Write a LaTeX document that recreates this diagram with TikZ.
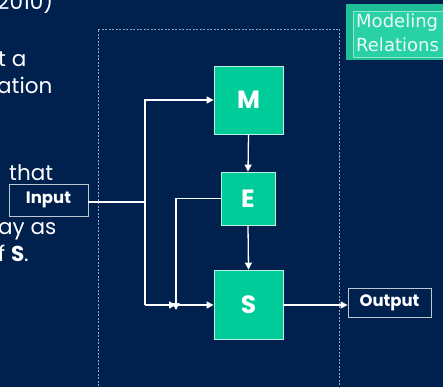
\documentclass[tikz,border=0pt]{standalone}
\usepackage{fontspec}
\setmainfont{Poppins}
\newfontfamily\dvs{DejaVu Sans}
\usetikzlibrary{arrows.meta}
\definecolor{navy}{RGB}{0,33,78}
\definecolor{boxgreen}{RGB}{0,204,153}
\definecolor{boxedge}{RGB}{190,240,225}
\definecolor{tagout}{RGB}{30,190,150}
\definecolor{tagin}{RGB}{40,210,165}
\definecolor{dashgray}{RGB}{150,165,190}
\tikzset{
  blk/.style={draw=boxedge, line width=0.8pt, fill=boxgreen, text=white, font=\fontsize{25}{28}\selectfont\bfseries, inner sep=0pt},
  io/.style={draw=white!75!navy, line width=0.8pt, text=white, font=\fontsize{16.5}{18}\selectfont\bfseries, inner sep=0pt},
  wire/.style={draw=white, line width=1.3pt},
  arr/.style={wire, -{Triangle[length=7pt,width=7pt]}},
  lefttext/.style={anchor=base west, inner sep=0pt, text=white, font=\fontsize{21.5}{24}\selectfont},
  tagtext/.style={anchor=base west, inner sep=0pt, text=white!92!tagin, font=\dvs\fontsize{18}{24}\selectfont}
}
\begin{document}
\begin{tikzpicture}[x=1pt,y=-1pt]
\fill[navy] (0,0) rectangle (443,387);
\useasboundingbox (0,0) rectangle (443,387);
% dashed frame
\draw[dashgray, line width=0.8pt, dash pattern=on 2pt off 1.5pt] (98,400) -- (98,29) -- (339,29) -- (339,400);
% left text fragments
\node[lefttext] (t1) at (-3,10) {2010)};
\node[lefttext] (t2) at (-2,67) {t a};
\node[lefttext] (t3) at (-3,94) {ation};
\node[lefttext] (t4) at (9,180) {that};
\node[lefttext] (t5) at (-2,234) {ay as};
\node[lefttext] (t6) at (-2,261) {f \textbf{S}.};
% Modeling Relations tag
\node[fill=tagout, minimum width=100pt, minimum height=56pt, anchor=north west, inner sep=0pt] (tago) at (346,4) {};
\node[fill=tagin, draw=boxedge!70!tagin, line width=0.8pt, minimum width=95pt, minimum height=46pt, anchor=north west, inner sep=0pt] (tagi) at (353,11) {};
\node[tagtext] (tagt1) at (356,28) {Modeling};
\node[tagtext] (tagt2) at (356,52) {Relations};
% blocks
\node[blk, minimum width=69pt, minimum height=68pt] (M) at (248.5,100) {M};
\node[blk, minimum width=54pt, minimum height=53pt] (E) at (248,198.5) {E};
\node[blk, minimum width=69pt, minimum height=69pt] (S) at (248.5,304.5) {S};
\node[io, minimum width=79pt, minimum height=32pt] (In) at (48.5,200) {Input};
\node[io, minimum width=83pt, minimum height=29pt] (Out) at (389.5,302.5) {Output};
% junctions
\coordinate (J) at (145,202);
\coordinate (Jb) at (145,305);
\coordinate (F) at (176,305);
% connectors
\draw[wire] (In.east |- J) -- (J);
\draw[arr] (J) |- (M.west);
\draw[wire] (J) -- (Jb);
\draw[arr] (Jb) -- (F);
\draw[arr] (F) -- (S.west |- F);
\draw[arr] (E.west) -| ([yshift=-5pt]F);
\draw[arr] (M.south) -- (E.north);
\draw[arr] (E.south) -- (S.north);
\draw[arr] (S.east |- F) -- (Out.west |- F);
\end{tikzpicture}
\end{document}
